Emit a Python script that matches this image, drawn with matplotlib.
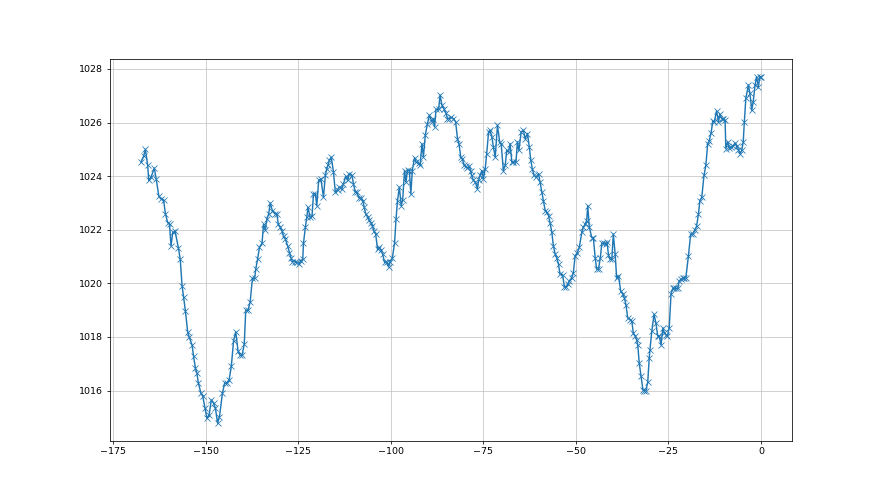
import numpy as np
import matplotlib
matplotlib.use("Agg")
import matplotlib.pyplot as plt

# hours before now
hours = [
    -167.5, -166.8, -166.3, -165.7, -165.4, -164.8, -163.9, -163.4, -162.7, -162.1,
    -161.4, -160.9, -160.3, -159.8, -159.4, -158.9, -158.3, -157.4, -156.9, -156.4,
    -156.0, -155.5, -154.9, -154.5, -153.7, -153.3, -152.8, -152.4, -152.0, -151.3,
    -150.8, -150.2, -149.7, -149.1, -148.5, -147.9, -147.4, -146.8, -146.3, -145.5,
    -144.9, -144.3, -143.7, -143.1, -142.5, -141.9, -141.3, -140.7, -140.2, -139.6,
    -139.2, -138.6, -138.0, -137.4, -136.8, -136.5, -136.0, -135.5, -134.8, -134.4,
    -133.9, -133.5, -133.0, -132.6, -132.0, -131.2, -130.8, -130.4, -129.9, -129.4,
    -129.0, -128.5, -127.9, -127.4, -127.0, -126.6, -125.8, -125.4, -124.8, -124.3,
    -123.8, -123.6, -123.1, -122.7, -122.4, -121.8, -121.3, -120.9, -120.4, -120.0,
    -119.5, -118.9, -118.2, -117.7, -117.3, -117.0, -116.6, -116.1, -115.5, -115.0,
    -114.4, -113.9, -113.2, -112.8, -112.2, -111.7, -111.2, -110.5, -110.1, -109.6,
    -109.2, -108.6, -108.0, -107.6, -107.2, -106.8, -106.3, -105.9, -105.4, -105.0,
    -104.5, -104.1, -103.6, -103.2, -102.7, -102.2, -101.7, -101.1, -100.6, -100.2,
    -99.6, -99.0, -98.6, -98.2, -97.7, -97.2, -96.8, -96.3, -95.9, -95.5,
    -95.0, -94.6, -94.2, -93.6, -93.2, -92.5, -92.1, -91.6, -91.2, -90.7,
    -90.1, -89.6, -88.9, -88.5, -88.2, -87.8, -87.1, -86.7, -86.2, -85.6,
    -85.1, -84.7, -84.2, -83.7, -83.1, -82.5, -82.0, -81.6, -81.1, -80.7,
    -80.2, -79.8, -79.4, -78.8, -78.4, -78.2, -77.7, -77.2, -76.6, -76.3,
    -75.9, -75.4, -75.0, -74.5, -74.1, -73.6, -73.2, -72.7, -72.3, -71.8,
    -71.2, -70.6, -70.2, -69.6, -69.1, -68.7, -68.2, -67.8, -67.3, -66.9,
    -66.2, -65.8, -65.4, -64.8, -64.2, -63.7, -63.1, -62.6, -62.2, -61.8,
    -61.3, -60.8, -60.1, -59.7, -59.2, -58.8, -58.3, -57.9, -57.4, -57.0,
    -56.5, -56.1, -55.6, -55.2, -54.7, -54.3, -53.6, -53.1, -52.7, -52.2,
    -51.8, -51.1, -50.7, -50.2, -49.6, -49.1, -48.4, -48.0, -47.5, -47.1,
    -46.8, -46.4, -45.7, -45.3, -44.8, -44.4, -43.9, -43.4, -43.0, -42.5,
    -42.0, -41.6, -41.2, -40.8, -40.3, -39.9, -39.4, -39.0, -38.5, -37.9,
    -37.3, -36.9, -36.5, -36.0, -35.4, -34.9, -34.5, -34.0, -33.6, -33.3,
    -32.9, -32.4, -31.9, -31.5, -31.1, -30.6, -30.2, -30.0, -29.5, -28.9,
    -28.4, -27.9, -27.5, -27.0, -26.5, -26.1, -25.7, -25.3, -24.8, -24.3,
    -23.8, -23.4, -23.0, -22.5, -22.1, -21.6, -21.1, -20.7, -20.3, -19.6,
    -19.0, -18.5, -17.9, -17.4, -16.9, -16.5, -16.0, -15.4, -14.9, -14.4,
    -14.0, -13.5, -13.0, -12.6, -12.0, -11.5, -11.1, -10.6, -10.2, -9.7,
    -9.5, -9.0, -8.6, -8.1, -7.6, -7.0, -6.6, -6.1, -5.7, -5.2,
    -4.8, -4.5, -4.1, -3.4, -3.0, -2.5, -2.1, -1.6, -1.2, -0.7,
    -0.3, 0.0,
]

pressure = [
    1024.52, 1024.74, 1025.00, 1024.40, 1023.84, 1023.96, 1024.30, 1023.90, 1023.27, 1023.15,
    1023.10, 1022.60, 1022.27, 1022.20, 1021.40, 1021.90, 1021.94, 1021.33, 1020.90, 1019.90,
    1019.50, 1018.96, 1018.20, 1018.00, 1017.70, 1017.28, 1016.84, 1016.65, 1016.28, 1015.90,
    1015.78, 1015.34, 1014.97, 1015.09, 1015.65, 1015.53, 1015.34, 1014.78, 1015.03, 1015.90,
    1016.28, 1016.28, 1016.40, 1016.90, 1017.84, 1018.19, 1017.49, 1017.31, 1017.31, 1017.74,
    1018.99, 1018.99, 1019.31, 1020.19, 1020.19, 1020.53, 1020.90, 1021.34, 1021.50, 1022.20,
    1022.00, 1022.40, 1022.59, 1023.00, 1022.71, 1022.60, 1022.59, 1022.20, 1022.09, 1021.96,
    1021.78, 1021.65, 1021.40, 1021.15, 1020.96, 1020.81, 1020.81, 1020.78, 1020.74, 1020.84,
    1020.90, 1021.50, 1022.09, 1022.46, 1022.84, 1022.46, 1022.50, 1023.34, 1023.34, 1022.90,
    1023.84, 1023.90, 1023.21, 1024.03, 1024.28, 1024.40, 1024.59, 1024.71, 1024.15, 1023.40,
    1023.50, 1023.59, 1023.53, 1023.71, 1023.99, 1023.84, 1024.09, 1024.03, 1023.71, 1023.40,
    1023.40, 1023.19, 1023.19, 1023.09, 1022.84, 1022.60, 1022.49, 1022.36, 1022.27, 1022.15,
    1021.94, 1021.84, 1021.28, 1021.34, 1021.24, 1021.09, 1020.78, 1020.81, 1020.61, 1020.81,
    1020.94, 1021.50, 1022.40, 1023.09, 1023.59, 1022.90, 1023.12, 1024.21, 1023.78, 1024.24,
    1024.21, 1023.34, 1024.21, 1024.69, 1024.52, 1024.49, 1024.40, 1025.21, 1024.71, 1025.53,
    1025.96, 1026.28, 1026.03, 1026.15, 1025.84, 1026.49, 1026.49, 1027.03, 1026.65, 1026.49,
    1026.34, 1026.15, 1026.15, 1026.19, 1026.15, 1026.03, 1025.40, 1025.21, 1024.71, 1024.65,
    1024.40, 1024.36, 1024.31, 1024.36, 1024.21, 1024.03, 1023.84, 1023.78, 1023.53, 1023.84,
    1024.03, 1024.21, 1023.90, 1024.28, 1024.84, 1025.65, 1025.71, 1025.46, 1025.09, 1024.71,
    1025.90, 1025.28, 1025.21, 1024.21, 1024.40, 1024.96, 1024.90, 1025.21, 1024.52, 1024.52,
    1024.52, 1025.28, 1024.96, 1025.65, 1025.71, 1025.40, 1025.59, 1025.09, 1024.61, 1024.28,
    1024.03, 1023.96, 1024.09, 1023.78, 1023.40, 1023.09, 1022.71, 1022.65, 1022.53, 1022.27,
    1021.90, 1021.40, 1021.09, 1020.96, 1020.71, 1020.34, 1020.31, 1019.86, 1019.86, 1019.96,
    1020.09, 1020.21, 1020.40, 1021.03, 1021.15, 1021.34, 1021.90, 1022.09, 1022.21, 1022.34,
    1022.90, 1022.09, 1021.71, 1021.71, 1020.96, 1020.53, 1020.53, 1020.96, 1021.50, 1021.50,
    1021.45, 1021.53, 1021.06, 1020.90, 1020.90, 1021.84, 1021.09, 1020.21, 1020.28, 1019.71,
    1019.59, 1019.46, 1019.21, 1018.71, 1018.65, 1018.59, 1018.15, 1018.03, 1017.90, 1017.71,
    1017.03, 1016.53, 1016.03, 1016.00, 1016.00, 1016.30, 1017.21, 1017.53, 1018.21, 1018.84,
    1018.53, 1018.03, 1018.03, 1017.71, 1018.34, 1018.15, 1018.09, 1018.03, 1018.34, 1019.62,
    1019.81, 1019.81, 1019.81, 1019.81, 1020.09, 1020.15, 1020.19, 1020.21, 1020.21, 1021.03,
    1021.84, 1021.84, 1021.98, 1022.13, 1022.59, 1023.09, 1023.21, 1024.03, 1024.40, 1025.21,
    1025.31, 1025.61, 1026.06, 1026.03, 1026.44, 1026.03, 1026.31, 1026.15, 1026.12, 1026.09,
    1025.03, 1025.28, 1025.06, 1025.09, 1025.11, 1025.24, 1025.11, 1024.99, 1024.84, 1024.96,
    1025.28, 1026.03, 1026.90, 1027.40, 1027.09, 1026.46, 1026.78, 1027.40, 1027.71, 1027.34,
    1027.71, 1027.70,
]

fig, ax = plt.subplots(figsize=(12.8, 7.2), dpi=68.75)
ax.plot(hours, pressure, marker="x", color="C0", markersize=6, markeredgewidth=0.8)
ax.grid(True, color="#c4c4c4")
fig.savefig("out.png")
